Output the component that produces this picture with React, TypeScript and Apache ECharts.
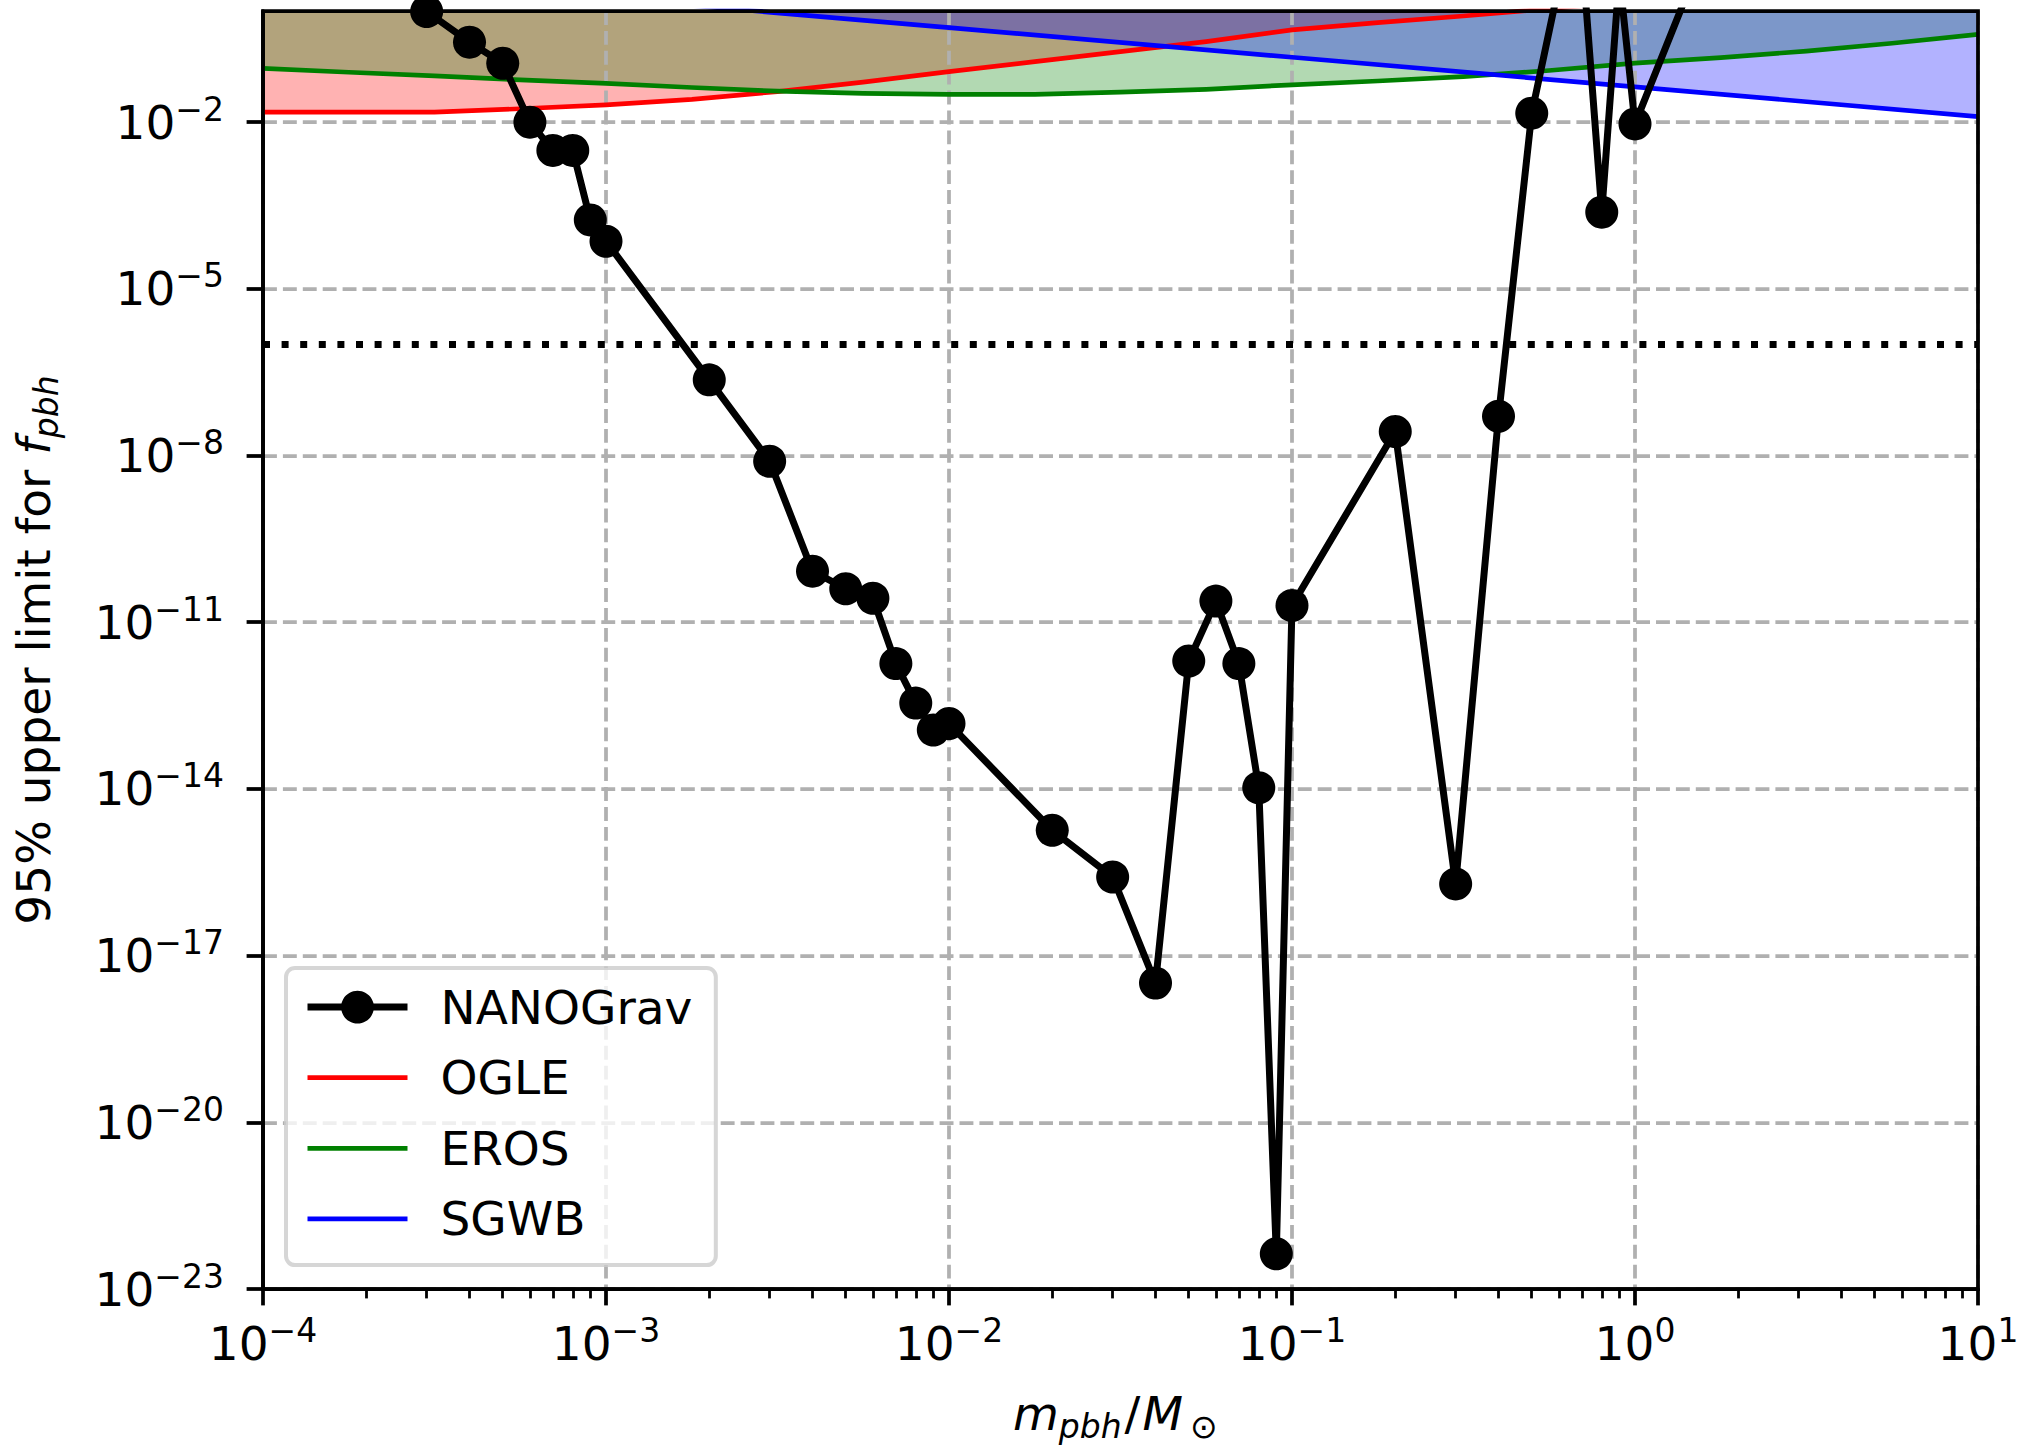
import React, { useEffect, useRef } from 'react';
import * as echarts from 'echarts';

// ---------- data ----------
const NANO_M = [3e-4, 4e-4, 5e-4, 6e-4, 7e-4, 8e-4, 9e-4, 1e-3, 2e-3, 3e-3, 4e-3, 5e-3, 6e-3, 7e-3, 8e-3, 9e-3, 1e-2, 2e-2, 3e-2, 4e-2, 5e-2, 6e-2, 7e-2, 8e-2, 9e-2, 0.1, 0.2, 0.3, 0.4, 0.5, 0.6, 0.7, 0.8, 0.9, 1, 2];
const NANO_F = [0.98, 0.275, 0.115, 1.0e-2, 3.1e-3, 3.1e-3, 1.74e-4, 7.2e-5, 2.3e-7, 7.9e-9, 8.3e-11, 4.0e-11, 2.7e-11, 1.8e-12, 3.5e-13, 1.15e-13, 1.5e-13, 1.8e-15, 2.6e-16, 3.2e-18, 2.0e-12, 2.4e-11, 1.8e-12, 1.05e-14, 4.3e-23, 2.0e-11, 2.7e-8, 1.95e-16, 5.1e-8, 1.45e-2, 2.9, 12, 2.4e-4, 4.3, 9.3e-3, 400];

const OGLE_M = [1e-4, 3.16e-4, 5.62e-4, 1e-3, 1.78e-3, 3.16e-3, 5.62e-3, 1e-2, 1.78e-2, 3.16e-2, 5.62e-2, 0.1, 0.178, 0.316, 0.562, 1];
const OGLE_F = [1.51e-2, 1.51e-2, 1.74e-2, 2.04e-2, 2.57e-2, 3.55e-2, 5.25e-2, 8.13e-2, 0.123, 0.186, 0.282, 0.457, 0.617, 0.813, 1.10, 1.48];

const EROS_M = [1e-4, 1.78e-4, 3.16e-4, 5.62e-4, 1e-3, 1.78e-3, 3.16e-3, 5.62e-3, 1e-2, 1.78e-2, 3.16e-2, 5.62e-2, 0.1, 0.178, 0.316, 0.562, 1, 1.78, 3.16, 5.62, 10];
const EROS_F = [9.3e-2, 7.9e-2, 6.8e-2, 5.75e-2, 5.0e-2, 4.2e-2, 3.6e-2, 3.3e-2, 3.16e-2, 3.16e-2, 3.47e-2, 3.9e-2, 4.7e-2, 5.5e-2, 6.6e-2, 8.5e-2, 0.115, 0.145, 0.19, 0.263, 0.38];

const SGWB_M = [1e-4, 1e-3, 1e-2, 0.1, 1, 10];
const SGWB_F = [5.83, 1.71, 0.501, 0.147, 0.0431, 0.0126];

const THRESHOLD_F = 1e-6;
const M_RANGE = [1e-4, 10];
const F_RANGE = [1e-23, 1];

const X_MAJOR = [1e-4, 1e-3, 1e-2, 1e-1, 1, 10];
const MINOR_MULT = [2, 3, 4, 5, 6, 7, 8, 9];
const Y_TICKS = [1e-23, 1e-20, 1e-17, 1e-14, 1e-11, 1e-8, 1e-5, 1e-2];

// ---------- helpers ----------
const FONT = "'DejaVu Sans', sans-serif";
const zip = (xs: number[], ys: number[]) => xs.map((x, i) => [x, ys[i]]);
const X_MINOR = X_MAJOR.slice(0, -1).flatMap((d) => MINOR_MULT.map((k) => k * d));

const powLabel = (v: number) => {
  const e = Math.round(Math.log10(v));
  return `{b|10}{s|${e < 0 ? '\u2212' + -e : e}}`;
};

const tickRich = {
  b: { fontSize: 47, fontFamily: FONT, color: '#000', padding: [6, 0, 6, 0] },
  s: { fontSize: 33, fontFamily: FONT, color: '#000', verticalAlign: 'top' },
};

const nameRich = {
  m: { fontSize: 47, fontFamily: FONT, color: '#000', padding: [0, 0, 6, 0] },
  sl: { fontSize: 47, fontFamily: FONT, color: '#000', padding: [0, 2, 6, 3] },
  i: { fontSize: 47, fontFamily: FONT, color: '#000', fontStyle: 'italic', padding: [0, 0, 6, 0] },
  sub: { fontSize: 33, fontFamily: FONT, color: '#000', fontStyle: 'italic', verticalAlign: 'bottom' },
  sun: { fontSize: 33, fontFamily: FONT, color: '#000', verticalAlign: 'bottom', padding: [0, 10.4, 0, 7] },
};

const axisLineStyle = { color: '#000', width: 3.75 };
const gridLineStyle = { color: '#b0b0b0', width: 3.75, type: [13.9, 6] as number[] };

const fillSeries = (name: string, xs: number[], ys: number[], color: string) => ({
  name,
  type: 'line',
  data: zip(xs, ys),
  symbol: 'none',
  showSymbol: false,
  silent: true,
  lineStyle: { width: 0, opacity: 0 },
  areaStyle: { color, opacity: 0.3, origin: 'end' },
  z: 1,
});

const curveSeries = (name: string, xs: number[], ys: number[], color: string) => ({
  name,
  type: 'line',
  data: zip(xs, ys),
  symbol: 'none',
  showSymbol: false,
  silent: true,
  lineStyle: { color, width: 4.7, join: 'round' },
  itemStyle: { color },
  z: 3,
});

const option = {
  animation: false,
  backgroundColor: '#ffffff',
  grid: {
    left: 263,
    top: 11,
    right: 53,
    bottom: 160,
    show: true,
    borderColor: '#000',
    borderWidth: 3.75,
    backgroundColor: 'transparent',
    containLabel: false,
    outerBoundsMode: 'none',
    z: 5,
  },
  legend: {
    show: true,
    orient: 'vertical',
    left: 286,
    top: 968,
    itemWidth: 100,
    itemHeight: 41,
    itemGap: 23.6,
    padding: [15.6, 23.5, 22.7, 18],
    backgroundColor: 'rgba(255,255,255,0.8)',
    borderColor: 'rgba(204,204,204,0.8)',
    borderWidth: 4,
    borderRadius: 9,
    selectedMode: false,
    z: 10,
    textStyle: { fontSize: 47, fontFamily: FONT, color: '#000', padding: [0, 0, 0, 28] },
    data: [
      { name: 'NANOGrav', itemStyle: { color: '#000', borderWidth: 0 }, lineStyle: { color: '#000', width: 7 } },
      { name: 'OGLE', itemStyle: { opacity: 0 }, lineStyle: { color: '#ff0000', width: 4.7 } },
      { name: 'EROS', itemStyle: { opacity: 0 }, lineStyle: { color: '#008000', width: 4.7 } },
      { name: 'SGWB', itemStyle: { opacity: 0 }, lineStyle: { color: '#0000ff', width: 4.7 } },
    ],
  },
  xAxis: [
    {
      type: 'log',
      logBase: 10,
      min: M_RANGE[0],
      max: M_RANGE[1],
      position: 'bottom',
      z: 2,
      axisLine: { show: true, onZero: false, lineStyle: axisLineStyle },
      axisTick: { show: true, customValues: X_MAJOR, length: 16.4, lineStyle: axisLineStyle },
      axisLabel: { show: true, customValues: X_MAJOR, formatter: powLabel, margin: 25, rich: tickRich },
      splitLine: { show: true, lineStyle: gridLineStyle },
      minorTick: { show: false },
      minorSplitLine: { show: false },
      name: '{i|m}{sub|pbh}{sl|/}{i|M}{sun|\u2299}',
      nameLocation: 'middle',
      nameGap: 101,
      nameTextStyle: { fontSize: 47, fontFamily: FONT, color: '#000', rich: nameRich },
    },
    {
      type: 'log',
      logBase: 10,
      min: M_RANGE[0],
      max: M_RANGE[1],
      position: 'bottom',
      z: 2,
      axisLine: { show: false },
      axisLabel: { show: false },
      splitLine: { show: false },
      axisTick: { show: true, customValues: X_MINOR, length: 9.4, lineStyle: { color: '#000', width: 2.8 } },
    },
  ],
  yAxis: {
    type: 'log',
    logBase: 10,
    min: F_RANGE[0],
    max: F_RANGE[1],
    position: 'left',
    z: 2,
    axisLine: { show: true, onZero: false, lineStyle: axisLineStyle },
    axisTick: { show: true, customValues: Y_TICKS, length: 16.4, lineStyle: axisLineStyle },
    axisLabel: { show: true, customValues: Y_TICKS, formatter: powLabel, margin: 39, rich: tickRich },
    splitLine: { show: true, lineStyle: gridLineStyle },
    minorTick: { show: false },
    name: '{m|95% upper limit for }{i|f}{sub|pbh}',
    nameLocation: 'middle',
    nameGap: 200,
    nameTextStyle: { fontSize: 47, fontFamily: FONT, color: '#000', rich: nameRich },
  },
  series: [
    fillSeries('OGLE area', OGLE_M, OGLE_F, '#ff0000'),
    fillSeries('EROS area', EROS_M, EROS_F, '#008000'),
    fillSeries('SGWB area', SGWB_M, SGWB_F, '#0000ff'),
    curveSeries('OGLE', OGLE_M, OGLE_F, '#ff0000'),
    curveSeries('EROS', EROS_M, EROS_F, '#008000'),
    curveSeries('SGWB', SGWB_M, SGWB_F, '#0000ff'),
    {
      name: 'threshold',
      type: 'line',
      data: [
        [M_RANGE[0], THRESHOLD_F],
        [M_RANGE[1], THRESHOLD_F],
      ],
      symbol: 'none',
      silent: true,
      lineStyle: { color: '#000', width: 7, type: [7, 11.6], cap: 'butt' },
      z: 3,
    },
    {
      name: 'NANOGrav',
      type: 'line',
      data: zip(NANO_M, NANO_F),
      symbol: 'circle',
      symbolSize: 33,
      showSymbol: true,
      showAllSymbol: true,
      silent: true,
      lineStyle: { color: '#000', width: 7, join: 'round' },
      itemStyle: { color: '#000' },
      z: 4,
    },
  ],
};

export default function App() {
  const ref = useRef<HTMLDivElement>(null);
  useEffect(() => {
    const chart = echarts.init(ref.current as HTMLDivElement, null, { renderer: 'svg' });
    chart.setOption(option as any);
    return () => chart.dispose();
  }, []);
  return (
    <div
      ref={ref}
      style={{ position: 'absolute', left: 0, top: 0, width: 2031, height: 1449, background: '#fff' }}
    />
  );
}
